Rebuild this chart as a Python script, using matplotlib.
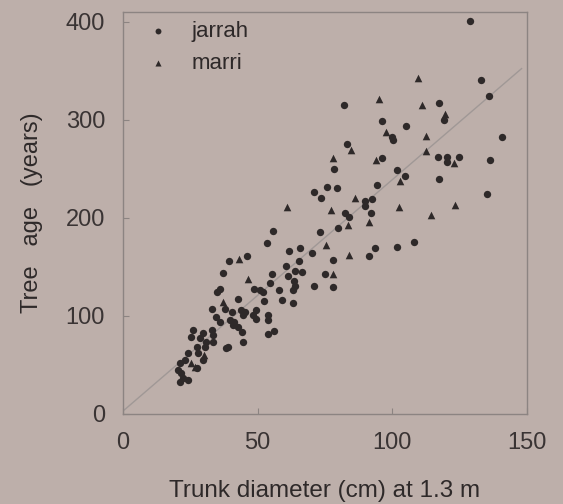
import numpy as np
import matplotlib
matplotlib.use("Agg")
import matplotlib.pyplot as plt

# jarrah (circles): trunk diameter (cm), age (years)
jarrah_x = [128.7, 133, 136, 140.7, 136.3, 135.1, 117.4, 119.1, 117, 120.4, 120.4, 124.7, 117.2,
            82.2, 96, 105, 99.7, 100.4, 83.1, 96.1, 78.5, 101.7, 104.8, 94.4, 75.8, 79.5, 71.1,
            73.4, 92.4, 89.8, 89.8, 82.4, 83.8, 92, 73.1, 79.8, 55.6, 53.6, 93.5, 91.5, 101.7,
            108, 77.8, 77.8, 75.1, 71.1, 70, 65.7, 61.7,
            39.4, 45.9, 37, 35, 36, 55.2, 60.5, 65.2, 61.4, 64, 66.5, 64, 63.6, 54.5, 48.5, 51.9,
            50.7, 58.1, 63, 52.5, 59.2, 63.2, 42.6, 37.9, 33.2, 40.6, 43.9, 45.2, 44.5, 49.2, 49.2,
            48.1, 53.9, 53.7, 39.6, 34.6, 35.9, 41.2, 42.6, 44.1, 44.7, 39, 53.9, 55.9,
            26, 29.7, 32.9, 33.4, 25.4, 28.5, 31, 33.4, 27.3, 30.4, 38.4, 24.2, 27.9, 29.7, 21.1,
            23, 20.5, 21.7, 22.3, 21.1, 24.2, 27.3, 40.9]
jarrah_y = [401, 340.5, 324.7, 282, 259.5, 224.7, 317, 300, 262, 262, 257, 262, 239.5,
            315, 299, 294, 282, 279.7, 275.7, 261, 250, 249, 242.6, 233.8, 231.4, 230, 226,
            220.6, 219.6, 217, 212, 205.4, 201, 205.4, 186, 190, 187, 174, 169, 161.5, 170,
            175, 157, 129.4, 143, 131, 164, 169, 166.6,
            156, 161.5, 144, 124, 127.7, 143, 151, 156, 141, 146, 145, 131, 136, 134, 127.7, 124.3,
            126.5, 126.5, 126.5, 115, 115.9, 113.5, 117.6, 107.4, 107.4, 104, 105.7, 104.4, 100.7, 105.7, 97.3,
            101, 100.7, 95.9, 96, 99, 94, 94, 88.9, 83.8, 73.6, 68.6, 82, 84.5,
            85.7, 82.3, 85.7, 80.6, 78.9, 77.2, 73.8, 73.8, 68.7, 68.7, 67, 61.9, 61.9, 55, 51.7,
            55, 44.9, 41.5, 36.4, 33, 34.7, 46.6, 90.8]

# marri (triangles)
marri_x = [109.4, 95.1, 111, 119.7, 112.4, 97.5, 112.4, 84.8, 77.8, 94.1, 123, 103, 86.2, 60.9,
           77.1, 102.4, 123.4, 114.4, 83.5, 91.5, 83.8, 77.8, 75.5, 43.2, 46.5, 37.2, 25.4, 26.7, 30]
marri_y = [343, 321, 315.5, 306, 284, 288, 268, 269.6, 260.8, 258.8, 256, 237.5, 220, 211.5,
           207.8, 211.5, 213, 202.7, 193, 196, 162, 143, 172.6, 158, 137.8, 114, 51.7, 48.3, 60]

# fitted line
fit_intercept, fit_slope = 3.0, 2.36
fit_range = [0.5, 148]

BG = "#bdafaa"
INK = "#2e2929"
GREY = "#8c8482"

plt.rcParams["font.family"] = ["Liberation Sans", "DejaVu Sans"]

fig = plt.figure(figsize=(5.63, 5.04), dpi=100, facecolor=BG)
ax = fig.add_axes([0.2185, 0.1786, 0.7175, 0.7976], facecolor=BG)

fx = np.array(fit_range)
ax.plot(fx, fit_intercept + fit_slope * fx, color="#a09896", lw=1.0, zorder=1)
ax.scatter(jarrah_x, jarrah_y, s=28, marker="o", color=INK, linewidths=0, label="jarrah", zorder=3)
ax.scatter(marri_x, marri_y, s=30, marker="^", color=INK, linewidths=0, label="marri", zorder=3)

ax.set_xlim(0, 150)
ax.set_ylim(0, 410)
ax.set_xticks([0, 50, 100, 150])
ax.set_yticks([0, 100, 200, 300, 400])
ax.tick_params(direction="in", length=4, color=GREY, labelsize=17, labelcolor="#3a3434")
ax.tick_params(axis="y", pad=13)
ax.tick_params(axis="x", pad=13)
for s in ax.spines.values():
    s.set_color(GREY)
    s.set_linewidth(1.0)

ax.set_xlabel("Trunk diameter (cm) at 1.3 m", fontsize=17.5, color=INK, labelpad=19)
ax.set_ylabel("Tree   age   (years)", fontsize=17, color=INK, labelpad=16)

leg = ax.legend(loc="upper left", frameon=False, fontsize=16, markerscale=0.8,
                handlelength=2.0, handletextpad=0.5, labelspacing=0.5,
                borderaxespad=0, bbox_to_anchor=(0.01, 1.0))
for t in leg.get_texts():
    t.set_color(INK)

fig.savefig("out.png", dpi=100, facecolor=BG)
